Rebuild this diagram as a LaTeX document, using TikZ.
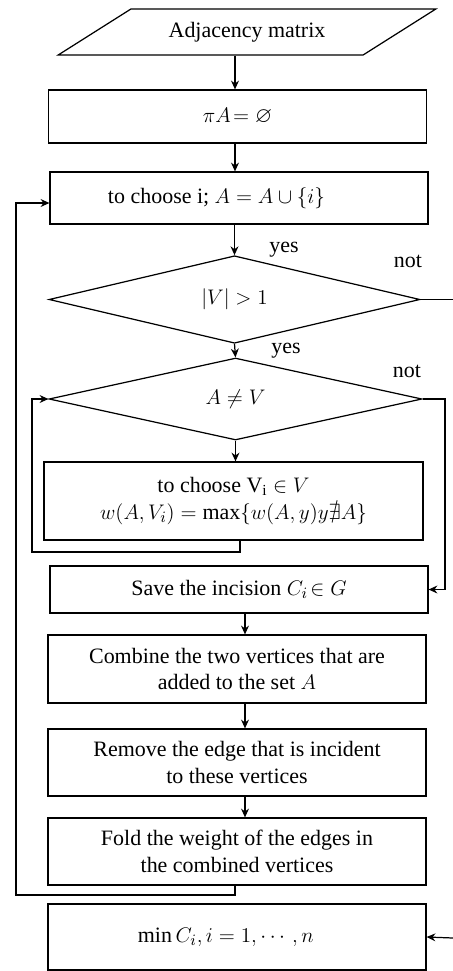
\documentclass[tikz,border=0pt]{standalone}
\usepackage{fontspec}
\setmainfont{Liberation Serif}
\usepackage{amsmath}
\usepackage{amssymb}
\usetikzlibrary{
    arrows.meta,
    calc,
    shapes.geometric
}
\tikzset{
    % --- Process step (plain rectangle) ---
    process/.style = {
        rectangle, draw, line width=0.7pt,
        minimum width=7.56cm, align=center,
        inner sep=2pt
    },
    % --- Decision (diamond) ---
    decision/.style = {
        diamond, draw, line width=0.7pt,
        inner sep=0pt, align=center
    },
    % --- Input data (parallelogram) ---
    data in/.style = {
        trapezium, draw, line width=0.7pt,
        trapezium left angle=31, trapezium right angle=149,
        trapezium stretches=true,
        minimum width=7.56cm, minimum height=0.92cm
    },
    % --- Branch label ---
    branch/.style = {
        inner sep=0pt
    },
    % --- Flow arrow ---
    flow/.style = {
        -{Stealth[length=5pt, width=4.5pt]}, line width=0.7pt
    },
    % --- Flow line without tip ---
    flow line/.style = {
        line width=0.7pt
    }
}

\begin{document}
\begin{tikzpicture}[
    x=0.02cm, y=-0.02cm,
    font=\fontsize{12.5pt}{15pt}\selectfont
]
\useasboundingbox (0,0) rectangle (453,971);

% ---------------------------------------------------------
% Main column
% ---------------------------------------------------------
\node[data in] (Adj) at (247,32) {Adjacency matrix};
\node[process, minimum height=1.06cm] (InitA) at (237.5,116.5) {$\pi A\!=\varnothing$};
\node[process, minimum height=1.04cm] (ChooseI) at (239,198) {to choose i; $A = A \cup \{i\}$\hspace*{0.9cm}};
\node[decision, minimum width=7.42cm, minimum height=1.58cm] (SizeV) at (234.5,299.5) {$|V| > 1$};
\node[decision, minimum width=7.46cm, minimum height=1.64cm] (ANotV) at (235.5,399) {$A \neq V$};
\node[process, minimum width=7.58cm, minimum height=1.56cm] (ChooseV) at (233.5,501) {%
    to choose V\textsubscript{i} $\in V$\\
    $w(A, V_i) = \max\{w(A, y)y\nexists A\}$};
\node[process, minimum height=0.94cm] (SaveCut) at (239,589.5) {Save the incision $C_i\!\in G$};
\node[process, minimum height=1.36cm] (Combine) at (237,669) {%
    Combine the two vertices that are\\ added to the set $A$};
\node[process, minimum height=1.34cm] (RemoveE) at (237,762.5) {%
    Remove the edge that is incident\\ to these vertices};
\node[process, minimum height=1.34cm] (FoldW) at (237,851.5) {%
    Fold the weight of the edges in\\ the combined vertices};
\node[process, minimum height=1.32cm] (MinCut) at (237,937) {$\min C_i, i = 1, \cdots, n$\hspace*{0.45cm}};

% ---------------------------------------------------------
% Branch labels
% ---------------------------------------------------------
\node[branch] (Yes1) at (284,250) {yes};
\node[branch] (Not1) at (408,261) {not};
\node[branch] (Yes2) at (286,351) {yes};
\node[branch] (Not2) at (407,371) {not};

% ---------------------------------------------------------
% Helper coordinates for wire columns
% ---------------------------------------------------------
\coordinate (TopCol) at (235,0);
\coordinate (MidCol) at (245,0);
\coordinate (InnerCol) at (240,0);
\coordinate (InnerBL) at (32,552);
\coordinate (OuterBL) at (16,895);
\coordinate (NotCol) at (445,0);
\coordinate (EdgeR1) at (453,299.5);
\coordinate (EdgeR2) at (453,938);

% ---------------------------------------------------------
% Connections
% ---------------------------------------------------------
\draw[flow] (Adj.south -| TopCol) -- (InitA.north -| TopCol);
\draw[flow] (InitA.south -| TopCol) -- (ChooseI.north -| TopCol);
\draw[flow] (ChooseI.south -| SizeV.north) -- (SizeV.north);
\draw[flow] (SizeV.south) -- (ANotV.north);
\draw[flow] (ANotV.south) -- (ChooseV.north -| ANotV.south);
\draw[flow] (SaveCut.south -| MidCol) -- (Combine.north -| MidCol);
\draw[flow] (Combine.south -| MidCol) -- (RemoveE.north -| MidCol);
\draw[flow] (RemoveE.south -| MidCol) -- (FoldW.north -| MidCol);

% inner loop back to A != V
\draw[flow] (ChooseV.south -| InnerCol) |- (InnerBL) |- (ANotV.west);

% outer loop back to choosing i
\draw[flow] (FoldW.south -| TopCol) |- (OuterBL) |- ($(ChooseI.west)+(0,5)$);

% "not" branches
\draw[flow line] (SizeV.east) -- (EdgeR1);
\draw[flow] (ANotV.east) -| (SaveCut.east -| NotCol) -- (SaveCut.east);
\draw[flow] (EdgeR2) -- (MinCut.east);

\end{tikzpicture}
\end{document}
